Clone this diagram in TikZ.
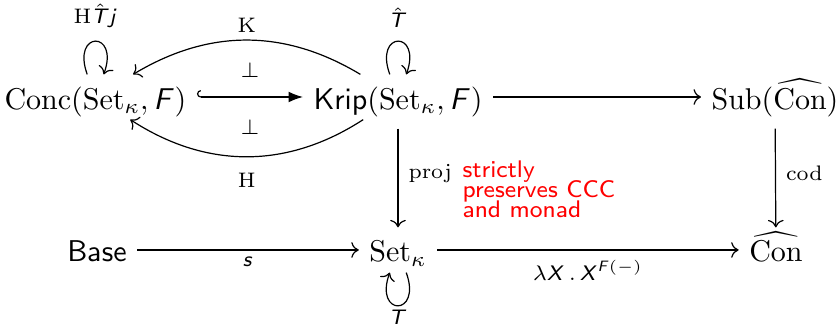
\documentclass[tikz,border=0pt]{standalone}
\usetikzlibrary{arrows.meta, positioning}
\DeclareMathAlphabet{\mathsfit}{OT1}{cmss}{m}{sl}
\colorlet{notered}{red}

\begin{document}
\begin{tikzpicture}[
    obj/.style={text height=8pt, text depth=0pt, inner sep=3.33pt},
    lbl/.style={font=\scriptsize, inner sep=2.33pt},
    cdarrow/.style={-{Computer Modern Rightarrow}},
    selfloop/.style={cdarrow, min distance=5.5mm, looseness=1},
    note/.style={font=\fontsize{8}{6.7}\selectfont\sffamily,
      execute at begin node={\lineskiplimit=-10pt},
      text=notered, align=left, inner sep=0pt},
  ]
    \useasboundingbox (0,0) rectangle (9.805,3.791);
    % objects
    \node[obj] (conc) at (1.117, 2.656) {$\mathrm{Conc}(\mathrm{Set}_\kappa, \mathsfit{F})$};
    \node[obj] (krip) at (4.657, 2.656) {$\mathsf{Krip}(\mathrm{Set}_\kappa, \mathsfit{F})$};
    \node[obj] (sub) at (9.068, 2.656) {$\mathrm{Sub}(\widehat{\mathrm{Con}})$};
    \node[obj] (base) at (1.135, 0.866) {$\mathsf{Base}$};
    \node[obj] (setk) at (4.657, 0.866) {$\mathrm{Set}_\kappa$};
    \node[obj] (con) at (9.079, 0.866) {$\widehat{\mathrm{Con}}$};
    % adjunctions
    \draw[{Hooks[right]}-{Latex}] (conc) -- node[lbl, above=3.9pt] {$\bot$}
      node[lbl, below=5pt] {$\bot$} (krip);
    \draw[cdarrow] (krip) to[bend right=31] node[lbl, above] {$\mathrm{K}$} (conc);
    \draw[cdarrow] (krip) to[bend left=33] node[lbl, below=3pt] {$\mathrm{H}$} (conc);
    % monads
    \draw[selfloop] (conc) to[out=110, in=70] node[lbl, above=2pt] {$\mathrm{H}\hat{\mathsfit{T}}\mathsfit{j}$} (conc);
    \draw[selfloop] (krip) to[out=110, in=70] node[lbl, above=2pt] {$\hat{\mathsfit{T}}$} (krip);
    \draw[selfloop] (setk) to[out=290, in=250] node[lbl, below=-1pt] {$\mathsfit{T}$} (setk);
    % square
    \draw[cdarrow] (krip) -- (sub);
    \draw[cdarrow, shorten <=3pt] (krip) -- node[lbl, right=1pt] (projlbl) {$\mathrm{proj}$} (setk);
    \draw[cdarrow, shorten <=3pt] (sub) -- node[lbl, right=1pt] {$\mathrm{cod}$} (con);
    \draw[cdarrow] (base) -- node[lbl, below] {$\mathsfit{s}$} (setk);
    \draw[cdarrow] (setk) -- node[lbl, below=1pt] {$\lambda\mathsfit{X}\,.\,\mathsfit{X}^{\mathsfit{F}(-)}$} (con);
    \node[note, anchor=north west] (note) at (5.405, 1.919) {strictly\\preserves CCC\\and monad};
  \end{tikzpicture}
\end{document}
